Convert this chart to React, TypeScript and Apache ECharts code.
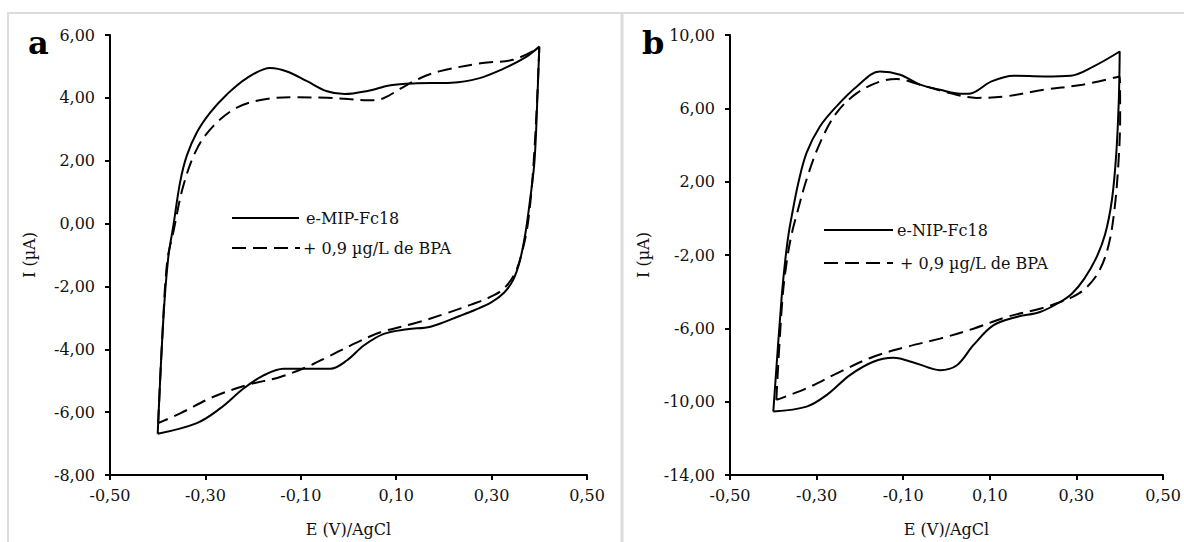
import React, { useEffect, useRef } from "react";
import * as echarts from "echarts";

// Panel a: e-MIP-Fc18 (solid) and + 0,9 µg/L de BPA (dashed)
const aSolid: number[][] = [
  [-0.40, -6.69], [-0.388, -3.0], [-0.378, -1.1], [-0.367, -0.05], [-0.353, 1.32],
  [-0.339, 2.16], [-0.318, 2.90], [-0.290, 3.53], [-0.255, 4.11], [-0.213, 4.63],
  [-0.164, 4.95], [-0.129, 4.84], [-0.087, 4.53], [-0.045, 4.21], [-0.008, 4.12],
  [0.04, 4.22], [0.088, 4.40], [0.136, 4.46], [0.216, 4.48], [0.273, 4.62],
  [0.321, 4.90], [0.369, 5.27], [0.40, 5.63],
  [0.396, 4.0], [0.390, 2.0], [0.381, 0.8], [0.371, -0.3], [0.359, -1.2],
  [0.345, -1.8], [0.326, -2.2], [0.30, -2.5], [0.265, -2.75], [0.233, -2.94],
  [0.172, -3.28], [0.123, -3.36], [0.074, -3.51],
  [0.032, -3.88], [-0.003, -4.35], [-0.038, -4.62], [-0.080, -4.62], [-0.136, -4.62],
  [-0.178, -4.83], [-0.220, -5.25], [-0.269, -5.88], [-0.318, -6.35], [-0.40, -6.69],
];
const aDashed: number[][] = [
  [-0.399, -6.35], [-0.39, -3.5], [-0.38, -1.2], [-0.367, -0.25], [-0.346, 1.22],
  [-0.318, 2.37], [-0.283, 3.11], [-0.234, 3.69], [-0.178, 3.95], [-0.108, 4.02],
  [-0.045, 4.0], [0.0, 3.96], [0.04, 3.92], [0.072, 3.98], [0.112, 4.32],
  [0.152, 4.64], [0.192, 4.85], [0.281, 5.11], [0.345, 5.21], [0.40, 5.6],
  [0.394, 3.5], [0.386, 1.5], [0.376, 0.0], [0.364, -0.9], [0.35, -1.55],
  [0.33, -2.0], [0.305, -2.28], [0.257, -2.58], [0.2, -2.88], [0.144, -3.15], [0.067, -3.46],
  [0.018, -3.78], [-0.038, -4.20], [-0.087, -4.56], [-0.143, -4.88], [-0.213, -5.14],
  [-0.283, -5.51], [-0.353, -6.04], [-0.399, -6.35],
];

// Panel b: e-NIP-Fc18 (solid) and + 0,9 µg/L de BPA (dashed)
const bSolid: number[][] = [
  [-0.40, -10.54], [-0.381, -4.39], [-0.372, -2.2], [-0.365, -0.9], [-0.358, 0.05],
  [-0.342, 1.95], [-0.323, 3.58], [-0.292, 5.02], [-0.254, 6.11], [-0.207, 7.19],
  [-0.154, 8.01], [-0.107, 7.83], [-0.061, 7.29], [-0.015, 7.01], [0.038, 6.79],
  [0.06, 6.84], [0.104, 7.47], [0.156, 7.78], [0.226, 7.74], [0.287, 7.78],
  [0.34, 8.29], [0.40, 9.1],
  [0.398, 6.5], [0.392, 3.5], [0.382, 1.0], [0.366, -0.9], [0.345, -2.2],
  [0.318, -3.3], [0.29, -4.1], [0.262, -4.57], [0.216, -5.11], [0.162, -5.38],
  [0.108, -5.84], [0.062, -6.92], [0.024, -8.01], [-0.015, -8.28], [-0.069, -7.92],
  [-0.123, -7.61], [-0.169, -7.82], [-0.223, -8.55], [-0.277, -9.64], [-0.323, -10.27],
  [-0.40, -10.54],
];
const bDashed: number[][] = [
  [-0.393, -9.9], [-0.379, -4.4], [-0.368, -2.2], [-0.357, -0.8], [-0.346, 0.2], [-0.323, 2.13],
  [-0.292, 4.12], [-0.254, 5.75], [-0.207, 6.83], [-0.154, 7.46], [-0.115, 7.60],
  [-0.061, 7.29], [0.007, 6.84], [0.069, 6.57], [0.139, 6.66], [0.226, 7.02],
  [0.314, 7.29], [0.40, 7.74],
  [0.401, 5.5], [0.397, 3.0], [0.388, 0.5], [0.374, -1.5], [0.352, -2.9],
  [0.322, -3.8], [0.29, -4.3], [0.262, -4.57], [0.216, -4.93], [0.139, -5.38],
  [0.062, -6.02], [-0.015, -6.56], [-0.092, -7.01], [-0.169, -7.55], [-0.246, -8.37],
  [-0.323, -9.27], [-0.393, -9.9],
];

const xTicksRange = { min: -0.5, max: 0.5, interval: 0.2 };
const aYRange = { min: -8, max: 6, interval: 2 };
const bYRange = { min: -14, max: 10, interval: 4 };

const seriesNamesA = ["e-MIP-Fc18", "+ 0,9 µg/L de BPA"];
const seriesNamesB = ["e-NIP-Fc18", "+ 0,9 µg/L de BPA"];
const xName = "E (V)/AgCl";
const yName = "I (µA)";

const FONT = "DejaVu Serif";
const DASH = [14, 7];

const fmt = (v: number) => v.toFixed(2).replace(".", ",");

export default function App() {
  const ref = useRef<HTMLDivElement>(null);
  useEffect(() => {
    if (!ref.current) return;
    const chart = echarts.init(ref.current, null, { renderer: "svg" });
    const axisCommon = {
      axisLine: { onZero: false, lineStyle: { color: "#000", width: 2 } },
      axisTick: { show: true, length: 5, lineStyle: { color: "#000", width: 2 } },
      splitLine: { show: false },
      nameTextStyle: { fontFamily: FONT, fontSize: 16, color: "#111" },
    };
    const xAxis = (gi: number) => ({
      type: "value",
      gridIndex: gi,
      ...xTicksRange,
      ...axisCommon,
      name: xName,
      nameLocation: "middle",
      nameGap: 46,
      axisLabel: { fontFamily: FONT, fontSize: 16, color: "#111", margin: 12, formatter: fmt },
    });
    const yAxis = (gi: number, range: any, gap: number) => ({
      type: "value",
      gridIndex: gi,
      ...range,
      ...axisCommon,
      name: yName,
      nameLocation: "middle",
      nameGap: gap,
      axisLabel: { fontFamily: FONT, fontSize: 16, color: "#111", margin: 15, formatter: fmt },
    });
    const line = (name: string, data: number[][], gi: number, dashed: boolean) => ({
      type: "line",
      name,
      data,
      xAxisIndex: gi,
      yAxisIndex: gi,
      showSymbol: false,
      symbol: "none",
      smooth: 0.35,
      silent: true,
      lineStyle: { color: "#000", width: 2, type: dashed ? DASH : "solid" },
    });
    const legendLine = (x1: number, x2: number, y: number, dashed: boolean) => ({
      type: "line",
      shape: { x1, y1: y, x2, y2: y },
      style: { stroke: "#000", lineWidth: 2, lineDash: dashed ? DASH : null },
    });
    const legendText = (x: number, y: number, text: string) => ({
      type: "text",
      x,
      y,
      style: { text, fontFamily: FONT, fontSize: 16, fill: "#111", verticalAlign: "middle", align: "left" },
    });
    const border = (x1: number, y1: number, x2: number, y2: number, w: number) => ({
      type: "line",
      shape: { x1, y1, x2, y2 },
      style: { stroke: "#dcdcdc", lineWidth: w },
    });
    chart.setOption({
      animation: false,
      backgroundColor: "#fff",
      grid: [
        { left: 110, top: 35, width: 477, height: 444 },
        { left: 730, top: 35, width: 433, height: 442 },
      ],
      xAxis: [xAxis(0), xAxis(1)],
      yAxis: [yAxis(0, aYRange, 73), yAxis(1, bYRange, 79)],
      series: [
        line(seriesNamesA[0], aSolid, 0, false),
        line(seriesNamesA[1], aDashed, 0, true),
        line(seriesNamesB[0], bSolid, 1, false),
        line(seriesNamesB[1], bDashed, 1, true),
      ],
      graphic: [
        border(7, 13, 1184, 13, 2),
        border(8, 13, 8, 542, 2),
        border(622, 13, 622, 542, 3),
        {
          type: "text", x: 28, y: 43,
          style: { text: "a", fontFamily: FONT, fontWeight: "bold", fontSize: 32, fill: "#000", verticalAlign: "middle" },
        },
        {
          type: "text", x: 642, y: 43,
          style: { text: "b", fontFamily: FONT, fontWeight: "bold", fontSize: 32, fill: "#000", verticalAlign: "middle" },
        },
        legendLine(232, 299, 218, false),
        legendText(306, 218, seriesNamesA[0]),
        legendLine(232, 300, 248, true),
        legendText(303, 248, seriesNamesA[1]),
        legendLine(824, 893, 230, false),
        legendText(897, 230, seriesNamesB[0]),
        legendLine(824, 893, 263, true),
        legendText(900, 263, seriesNamesB[1]),
      ],
    });
    return () => chart.dispose();
  }, []);
  return (
    <div
      ref={ref}
      style={{ position: "absolute", left: 0, top: 0, width: 1184, height: 542 }}
    />
  );
}
